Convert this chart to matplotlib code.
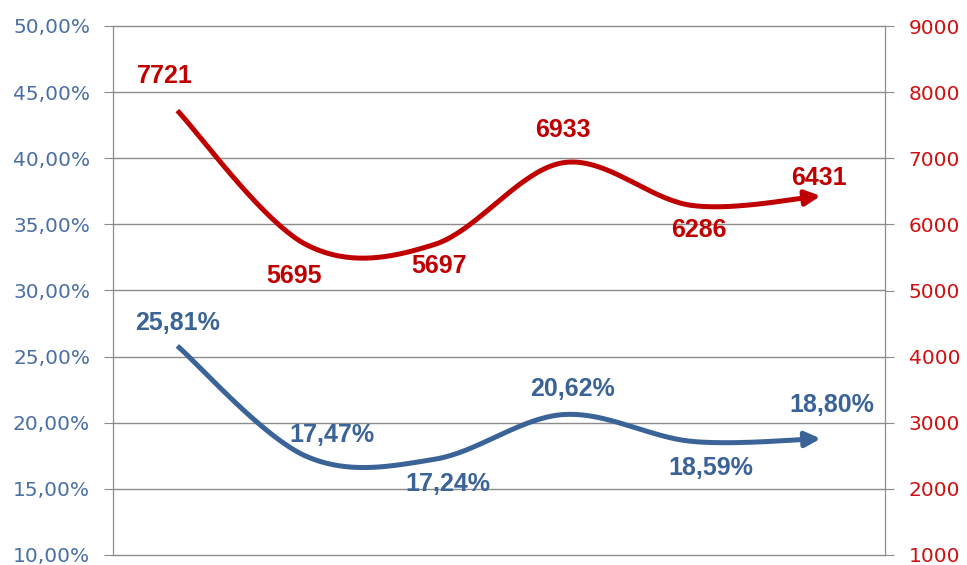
import numpy as np
import matplotlib
matplotlib.use("Agg")
import matplotlib.pyplot as plt
from matplotlib.ticker import FuncFormatter

categories = ["1", "2", "3", "4", "5", "6"]
pct_values = [25.81, 17.47, 17.24, 20.62, 18.59, 18.80]
count_values = [7721, 5695, 5697, 6933, 6286, 6431]
pct_labels = ["25,81%", "17,47%", "17,24%", "20,62%", "18,59%", "18,80%"]
count_labels = ["7721", "5695", "5697", "6933", "6286", "6431"]

# label offsets in pixels (dx, dy up-positive)
pct_offsets = [(0, 23), (26, 21), (13, -25), (9, 26), (19, -26.5), (11, 34)]
count_offsets = [(-13, 34.5), (-12, -31.5), (4, -22), (0, 33), (7, -25), (-2, 18)]

BLUE = "#3A6397"
RED = "#C00000"
BLUE_TXT = "#4A6FA5"
RED_TXT = "#D01010"
GRID = "#8C8C8C"


def smooth(xs, ys, n=40):
    xs = np.asarray(xs, float)
    ys = np.asarray(ys, float)
    P = np.column_stack([xs, ys])
    out = []
    for i in range(len(P) - 1):
        p0 = P[i - 1] if i > 0 else P[i]
        p1 = P[i]
        p2 = P[i + 1]
        p3 = P[i + 2] if i + 2 < len(P) else P[i + 1]
        c1 = p1 + (p2 - p0) / 6.0
        c2 = p2 - (p3 - p1) / 6.0
        t = np.linspace(0, 1, n)[:, None]
        seg = ((1 - t) ** 3) * p1 + 3 * ((1 - t) ** 2) * t * c1 + 3 * (1 - t) * t ** 2 * c2 + t ** 3 * p2
        out.append(seg if i == 0 else seg[1:])
    S = np.vstack(out)
    return S[:, 0], S[:, 1]


fig = plt.figure(figsize=(9.67, 5.65), dpi=100)
ax = fig.add_axes([113 / 967, 1 - 555 / 565, (885 - 113) / 967, (555 - 26) / 565])
ax2 = ax.twinx()

x = np.arange(len(categories))
ax.set_xlim(-0.5, len(categories) - 0.5)
ax.set_ylim(10, 50)
ax2.set_ylim(1000, 9000)
yt = np.arange(10, 50.1, 5)
ax.set_yticks(yt)
ax2.set_yticks(np.arange(1000, 9001, 1000))
ax.yaxis.set_major_formatter(FuncFormatter(lambda v, p: f"{v:.2f}".replace(".", ",") + "%"))
ax2.yaxis.set_major_formatter(FuncFormatter(lambda v, p: f"{int(v)}"))
ax.set_xticks([])
ax2.set_xticks([])

for v in yt:
    ax.axhline(v, color=GRID, linewidth=1.0, clip_on=False, zorder=0)
for a in (ax, ax2):
    a.spines["top"].set_visible(False)
    a.spines["bottom"].set_visible(False)
    a.spines["left"].set_color(GRID)
    a.spines["right"].set_color(GRID)
ax.tick_params(axis="y", length=6.5, color=GRID, labelsize=14.5, labelcolor=BLUE_TXT, pad=10)
ax2.tick_params(axis="y", length=6.5, color=GRID, labelsize=14.5, labelcolor=RED_TXT, pad=10.5)
for lab in ax.get_yticklabels() + ax2.get_yticklabels():
    lab.set_family("DejaVu Sans")

# blue line
sx, sy = smooth(x, pct_values)
ax.plot(sx[:-6], sy[:-6], color=BLUE, linewidth=3.6, solid_capstyle="butt")
ax.annotate("", xy=(sx[-1], sy[-1]), xytext=(sx[-8], sy[-8]),
            arrowprops=dict(arrowstyle="-|>,head_length=0.9,head_width=0.45", color=BLUE, lw=3.6,
                            shrinkA=0, shrinkB=0))
# red line
rx, ry = smooth(x, count_values)
ax2.plot(rx[:-6], ry[:-6], color=RED, linewidth=3.6, solid_capstyle="butt")
ax2.annotate("", xy=(rx[-1], ry[-1]), xytext=(rx[-8], ry[-8]),
             arrowprops=dict(arrowstyle="-|>,head_length=0.9,head_width=0.45", color=RED, lw=3.6,
                             shrinkA=0, shrinkB=0))

for xi, v, lab, off in zip(x, pct_values, pct_labels, pct_offsets):
    ax.annotate(lab, (xi, v), xytext=off, textcoords="offset pixels", ha="center", va="center",
                color=BLUE, fontsize=18, fontweight="bold", family="Liberation Sans")
for xi, v, lab, off in zip(x, count_values, count_labels, count_offsets):
    ax2.annotate(lab, (xi, v), xytext=off, textcoords="offset pixels", ha="center", va="center",
                 color=RED, fontsize=18, fontweight="bold", family="Liberation Sans")

fig.savefig("out.png", dpi=100)
